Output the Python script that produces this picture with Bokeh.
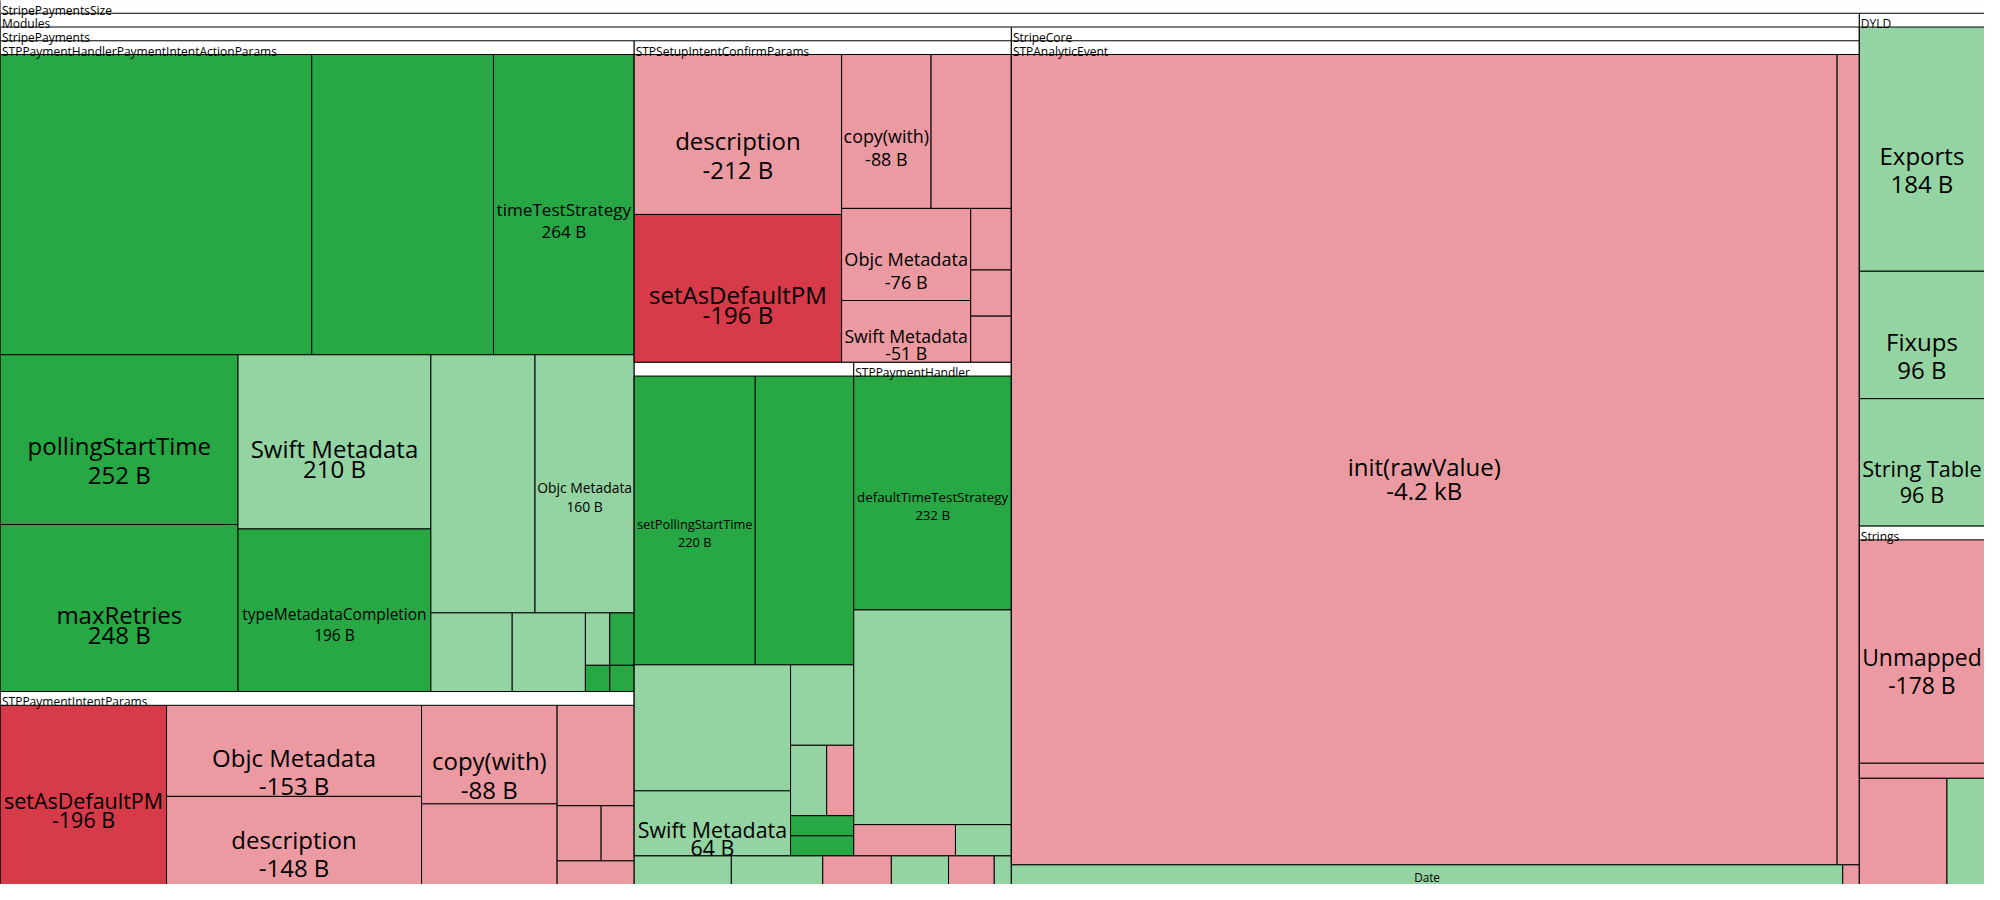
from bokeh.plotting import figure
from bokeh.models import ColumnDataSource, Range1d
from bokeh.core.properties import value, field
from bokeh.embed import file_html
from bokeh.resources import INLINE

# ---------------- data (size change in bytes) ----------------
node_key = [
    "root", "modules", "dyld", "sp", "sc",
    "pia", "pip", "sic", "sia", "ph",
    "sp1", "sp2", "sp3", "sp4", "sp5", "sp6",
    "sae", "sc1", "sc2",
    "dy1", "dy2", "dy3", "strings", "dy4", "dy5",
    "st1", "st2",
    "pia1", "pia2", "pia3", "pia4", "pia5", "pia6", "pia7", "pia8", "pia9", "pia10",
    "pia11", "pia12", "pia13", "pia14", "pia15",
    "pip1", "pip2", "pip3", "pip4", "pip5", "pip6", "pip7", "pip8", "pip9",
    "sic1", "sic2", "sic3", "sic4", "sic5", "sic6", "sic7", "sic8", "sic9",
    "sia1", "sia2", "sia3", "sia4", "sia5", "sia6", "sia7", "sia8", "sia9",
    "ph1", "ph2", "ph3", "ph4",
    "sae1", "sae2",
]
node_parent = [
    None, "root", "root", "modules", "modules",
    "sp", "sp", "sp", "sp", "sp",
    "sp", "sp", "sp", "sp", "sp", "sp",
    "sc", "sc", "sc",
    "dyld", "dyld", "dyld", "dyld", "dyld", "dyld",
    "strings", "strings",
    "pia", "pia", "pia", "pia", "pia", "pia", "pia", "pia", "pia", "pia",
    "pia", "pia", "pia", "pia", "pia",
    "pip", "pip", "pip", "pip", "pip", "pip", "pip", "pip", "pip",
    "sic", "sic", "sic", "sic", "sic", "sic", "sic", "sic", "sic",
    "sia", "sia", "sia", "sia", "sia", "sia", "sia", "sia", "sia",
    "ph", "ph", "ph", "ph",
    "sae", "sae",
]
node_label = [
    "StripePaymentsSize", "Modules", "DYLD", "StripePayments", "StripeCore",
    "STPPaymentHandlerPaymentIntentActionParams", "STPPaymentIntentParams",
    "STPSetupIntentConfirmParams", "", "STPPaymentHandler",
    "", "", "", "", "", "",
    "STPAnalyticEvent", "Date", "",
    "Exports", "Fixups", "String Table", "Strings", "", "",
    "Unmapped", "",
    "", "", "timeTestStrategy", "pollingStartTime", "maxRetries", "Swift Metadata",
    "typeMetadataCompletion", "", "Objc Metadata", "", "", "", "", "", "",
    "setAsDefaultPM", "Objc Metadata", "description", "copy(with)", "", "", "", "", "",
    "description", "setAsDefaultPM", "copy(with)", "", "Objc Metadata", "Swift Metadata", "", "", "",
    "setPollingStartTime", "", "", "Swift Metadata", "", "", "", "", "",
    "defaultTimeTestStrategy", "", "", "",
    "init(rawValue)", "",
]
node_bytes = [
    None, None, None, None, None,
    None, None, None, None, None,
    17, 16, -12, 10, -8, 3,
    None, 100, -2,
    184, 96, 96, None, -56, 24,
    -178, -12,
    584, 341, 264, 252, 248, 210, 196, 168, 160, 40, 36, 8, 8, 4, 4,
    -196, -153, -148, -88, -72, -51, -16, -12, -12,
    -212, -196, -88, -79, -76, -51, -16, -12, -12,
    220, 179, 124, 64, 32, 16, -12, 8, 8,
    232, 213, -20, 11,
    -4163, -112,
]
node_status = [
    None, None, None, None, None,
    None, None, None, None, None,
    "grown", "grown", "shrunk", "grown", "shrunk", "grown",
    None, "grown", "shrunk",
    "grown", "grown", "grown", None, "shrunk", "grown",
    "shrunk", "shrunk",
    "added", "added", "added", "added", "added", "grown", "added", "grown", "grown",
    "grown", "grown", "grown", "added", "added", "added",
    "removed", "shrunk", "shrunk", "shrunk", "shrunk", "shrunk", "shrunk", "shrunk", "shrunk",
    "shrunk", "removed", "shrunk", "shrunk", "shrunk", "shrunk", "shrunk", "shrunk", "shrunk",
    "added", "added", "grown", "grown", "grown", "grown", "shrunk", "added", "added",
    "added", "grown", "shrunk", "grown",
    "shrunk", "shrunk",
]

status_colors = {"added": "#28a745", "grown": "#94d3a2",
                 "removed": "#d73a49", "shrunk": "#eb9aa2"}

# ---------------- treemap layout (squarified, golden ratio) ----------------
HEADER = 14
PHI = (1 + 5 ** 0.5) / 2
VIEW_BOTTOM = 900.0

nodes = {}
for k, par, lab, b, st in zip(node_key, node_parent, node_label, node_bytes, node_status):
    nodes[k] = dict(key=k, parent=par, label=lab, bytes=b, status=st, children=[], depth=0)
for k, par in zip(node_key, node_parent):
    if par is not None:
        nodes[par]["children"].append(nodes[k])


def total(n):
    if n["children"]:
        n["value"] = sum(total(c) for c in n["children"])
    else:
        n["value"] = abs(n["bytes"])
    return n["value"]


def squarify(children, x0, y0, x1, y1, val):
    i0 = i1 = 0
    n = len(children)
    while i0 < n:
        dx, dy = x1 - x0, y1 - y0
        while True:
            sum_v = children[i1]["value"]
            i1 += 1
            if sum_v or i1 >= n:
                break
        min_v = max_v = sum_v
        alpha = max(dy / dx, dx / dy) / (val * PHI)
        beta = sum_v * sum_v * alpha
        min_ratio = max(max_v / beta, beta / min_v)
        while i1 < n:
            nv = children[i1]["value"]
            sum_v += nv
            min_v = min(min_v, nv)
            max_v = max(max_v, nv)
            beta = sum_v * sum_v * alpha
            new_ratio = max(max_v / beta, beta / min_v)
            if new_ratio > min_ratio:
                sum_v -= nv
                break
            min_ratio = new_ratio
            i1 += 1
        row = children[i0:i1]
        if dx < dy:
            ny = y1 if i1 >= n else y0 + dy * sum_v / val
            xx = x0
            for c in row:
                w = (x1 - x0) * c["value"] / sum_v
                c["x0"], c["x1"], c["y0"], c["y1"] = xx, xx + w, y0, ny
                xx += w
            y0 = ny
        else:
            nx = x1 if i1 >= n else x0 + dx * sum_v / val
            yy = y0
            for c in row:
                h = (y1 - y0) * c["value"] / sum_v
                c["x0"], c["x1"], c["y0"], c["y1"] = x0, nx, yy, yy + h
                yy += h
            x0 = nx
        val -= sum_v
        i0 = i1


def layout(n):
    if n["children"]:
        squarify(n["children"], n["x0"], n["y0"] + HEADER, n["x1"], n["y1"], n["value"])
        for c in n["children"]:
            c["depth"] = n["depth"] + 1
            layout(c)


root = nodes["root"]
total(root)
root["x0"], root["y0"], root["x1"], root["y1"] = 0.0, -1.0, 2000.0, 900.0
layout(root)

# ---------------- text measuring (approximate Open Sans advances) ----------------
EM = {' ': 0.26, '(': 0.296, ')': 0.296, '-': 0.322, '.': 0.266,
      'A': 0.633, 'B': 0.648, 'C': 0.631, 'D': 0.729, 'E': 0.556, 'F': 0.516, 'G': 0.728,
      'H': 0.738, 'I': 0.279, 'J': 0.267, 'K': 0.614, 'L': 0.519, 'M': 0.903, 'N': 0.754,
      'O': 0.779, 'P': 0.602, 'Q': 0.779, 'R': 0.618, 'S': 0.549, 'T': 0.553, 'U': 0.728,
      'V': 0.595, 'W': 0.926, 'X': 0.577, 'Y': 0.56, 'Z': 0.571,
      'a': 0.556, 'b': 0.613, 'c': 0.476, 'd': 0.613, 'e': 0.561, 'f': 0.339, 'g': 0.548,
      'h': 0.614, 'i': 0.253, 'j': 0.253, 'k': 0.525, 'l': 0.253, 'm': 0.93, 'n': 0.614,
      'o': 0.604, 'p': 0.613, 'q': 0.613, 'r': 0.408, 's': 0.477, 't': 0.353, 'u': 0.614,
      'v': 0.5, 'w': 0.778, 'x': 0.524, 'y': 0.502, 'z': 0.468}


def em_width(s):
    return sum(EM.get(ch, 0.572) for ch in s)


def fmt_bytes(b):
    if abs(b) >= 1000:
        return f"{b / 1000:.1f} kB"
    return f"{b} B"


# ---------------- collect drawing data ----------------
rects = dict(left=[], right=[], top=[], bottom=[], fill=[])
hdr = dict(x=[], y=[], text=[])
lab = dict(x=[], y=[], text=[], fs=[])
HDR_FS = 12
BOTTOM_ROOM = 10.0   # keep labels clear of the lower edge of the view


def walk(n):
    x0, y0, x1, y1 = n["x0"], n["y0"], n["x1"], n["y1"]
    rects["left"].append(x0)
    rects["right"].append(x1)
    rects["top"].append(y0)
    rects["bottom"].append(y1)
    if n["children"]:
        rects["fill"].append("#ffffff")
        if n["label"] and em_width(n["label"]) * HDR_FS + 3 <= (x1 - x0):
            hdr["x"].append(x0 + 1.5)
            hdr["y"].append(max(y0 + 10.5, 10.5))
            hdr["text"].append(n["label"])
        for c in n["children"]:
            walk(c)
    else:
        rects["fill"].append(status_colors[n["status"]])
        if n["label"]:
            vtxt = fmt_bytes(n["bytes"])
            w = x1 - x0
            fs = min(24.0, 0.95 * w / max(em_width(n["label"]), em_width(vtxt)))
            if fs < 6:
                return
            cx = (x0 + x1) / 2
            vis_bottom = min(y1, VIEW_BOTTOM)
            vh = vis_bottom - y0
            if vh < 1.3 * fs:
                # only the name fits in the visible strip of the box
                fs = min(fs, (vh - 6) / 1.2)
                lab["x"].append(cx)
                lab["y"].append(y0 + 1 + 0.95 * fs)
                lab["text"].append(n["label"])
                lab["fs"].append(f"{fs:.1f}px")
                return
            cy = (y0 + y1) / 2
            b1 = cy + 0.27 * fs
            desc = 0.0
            if any(ch in "gjpqy" for ch in n["label"]):
                desc = 0.354
            elif any(ch in "()" for ch in n["label"]):
                desc = 0.2
            b2 = b1 + 0.5625 * fs + 7 + desc * fs
            lines = [(n["label"], b1), (vtxt, b2)]
            shown = [(t, yy) for t, yy in lines if yy - 0.72 * fs < VIEW_BOTTOM]
            shift = max(0.0, shown[-1][1] + 0.3 * fs - (VIEW_BOTTOM - BOTTOM_ROOM))
            for txt, yy in shown:
                lab["x"].append(cx)
                lab["y"].append(yy - shift)
                lab["text"].append(txt)
                lab["fs"].append(f"{fs:.1f}px")


walk(root)

# ---------------- figure ----------------
p = figure(width=1984, height=884, x_range=Range1d(0, 2000), y_range=Range1d(VIEW_BOTTOM, 0),
           output_backend="svg", toolbar_location=None, min_border=0)
p.axis.visible = False
p.xgrid.visible = False
p.ygrid.visible = False
p.outline_line_color = None
p.background_fill_color = "white"
p.border_fill_color = "white"

p.quad(left="left", right="right", top="top", bottom="bottom", fill_color="fill",
       line_color="black", line_width=1, source=ColumnDataSource(rects))

p.text(x="x", y="y", text="text", source=ColumnDataSource(hdr),
       text_font=value("Open Sans"), text_font_size=f"{HDR_FS}px", text_color="black",
       text_align="left", text_baseline="alphabetic")

p.text(x="x", y="y", text="text", source=ColumnDataSource(lab),
       text_font=value("Open Sans"), text_font_size=field("fs"), text_color="black",
       text_align="center", text_baseline="alphabetic")

open("out.html", "w").write(file_html(p, INLINE))
